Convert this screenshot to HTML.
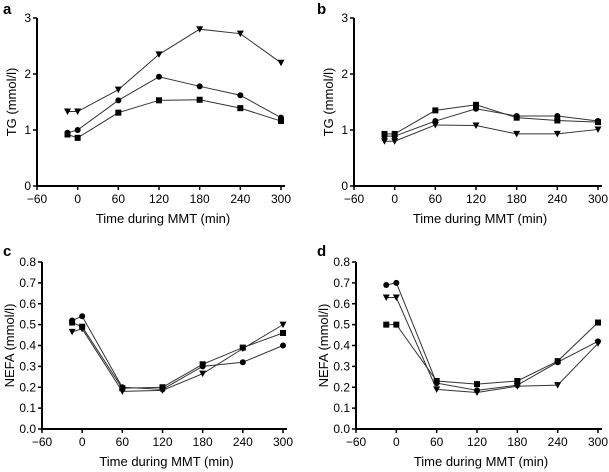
<!DOCTYPE html>
<html><head><meta charset="utf-8"><style>
body{margin:0;background:#fff}
svg{display:block;font-family:"Liberation Sans",sans-serif}
</style></head><body>
<svg id="c" width="609" height="472"></svg>
<script>
const times=[-15,0,60,120,180,240,300];
const xTicks=[-60,0,60,120,180,240,300];
const tgTicks=[0,1,2,3];
const nefaTicks=[0,0.1,0.2,0.3,0.4,0.5,0.6,0.7,0.8];
const aTri=[1.33,1.33,1.72,2.35,2.8,2.72,2.2];
const aCir=[0.95,1.0,1.53,1.95,1.78,1.62,1.22];
const aSq=[0.92,0.86,1.31,1.53,1.54,1.39,1.16];
const bSq=[0.93,0.93,1.35,1.45,1.22,1.17,1.14];
const bCir=[0.89,0.89,1.16,1.38,1.25,1.25,1.16];
const bTri=[0.8,0.8,1.09,1.08,0.93,0.93,1.01];
const cCir=[0.52,0.54,0.2,0.19,0.30,0.32,0.40];
const cSq=[0.51,0.49,0.195,0.2,0.31,0.39,0.46];
const cTri=[0.465,0.48,0.18,0.185,0.265,0.385,0.50];
const dCir=[0.69,0.70,0.22,0.185,0.21,0.32,0.42];
const dTri=[0.63,0.63,0.19,0.175,0.205,0.21,0.41];
const dSq=[0.50,0.50,0.23,0.215,0.23,0.325,0.51];
const NS="http://www.w3.org/2000/svg";
const svg=document.getElementById('c');
function mk(t,a,p){const e=document.createElementNS(NS,t);for(const k in a)e.setAttribute(k,a[k]);(p||svg).appendChild(e);return e;}
const panels=[
 {id:'a',x0:37,x1:281,y0:186,y1:18,ymax:3,ticks:tgTicks,dec:0,yl:'TG (mmol/l)',series:[['tri',aTri],['cir',aCir],['sq',aSq]],lx:3,ly:14,ylx:12},
 {id:'b',x0:354,x1:598,y0:186,y1:18,ymax:3,ticks:tgTicks,dec:0,yl:'TG (mmol/l)',series:[['sq',bSq],['cir',bCir],['tri',bTri]],lx:317,ly:14,ylx:329},
 {id:'c',x0:42,x1:283,y0:429,y1:262,ymax:0.8,ticks:nefaTicks,dec:1,yl:'NEFA (mmol/l)',series:[['cir',cCir],['sq',cSq],['tri',cTri]],lx:3,ly:256,ylx:10},
 {id:'d',x0:356,x1:598,y0:429,y1:262,ymax:0.8,ticks:nefaTicks,dec:1,yl:'NEFA (mmol/l)',series:[['cir',dCir],['tri',dTri],['sq',dSq]],lx:317,ly:256,ylx:324}
];
panels.forEach(p=>{
 const g=mk('g',{});
 
 
 const xs=v=>p.x0+(v+60)/360*(p.x1-p.x0);
 const ys=v=>p.y0-v/p.ymax*(p.y0-p.y1);
 const ax=mk('path',{d:`M${p.x0},${p.y1} V${p.y0} H${p.x1+4}`,stroke:'#000','stroke-width':2,fill:'none'},g);
 
 
 xTicks.forEach(t=>{const x=xs(t);mk('line',{x1:x,x2:x,y1:p.y0,y2:p.y0+4,stroke:'#000','stroke-width':1.5},g);
  const tx=mk('text',{x:x,y:p.y0+17,'text-anchor':'middle','font-size':12},g);tx.textContent=t<0?'\u2212'+(-t):t;
  });
 p.ticks.forEach(t=>{const y=ys(t);mk('line',{x1:p.x0-4,x2:p.x0,y1:y,y2:y,stroke:'#000','stroke-width':1.5},g);
  const tx=mk('text',{x:p.x0-6,y:y+4,'text-anchor':'end','font-size':12},g);tx.textContent=t.toFixed(p.dec);
  });
 const xt=mk('text',{x:(p.x0+p.x1)/2+4,y:p.y0+37,'text-anchor':'middle','font-size':13},g);xt.textContent='Time during MMT (min)';
 
 const cy=(p.y0+p.y1)/2;
 const yt=mk('text',{x:p.ylx,y:cy,'text-anchor':'middle','font-size':13,transform:`rotate(-90 ${p.ylx} ${cy})`,dy:4},g);yt.textContent=p.yl;
 
 const lt=mk('text',{x:p.lx,y:p.ly,'font-size':15,'font-weight':'bold'},g);lt.textContent=p.id;
 
 p.series.forEach(([m,vals])=>{
  const pts=vals.map((v,i)=>[xs(times[i]),ys(v)]);
  const ln=mk('polyline',{points:pts.map(q=>q.join(',')).join(' '),fill:'none',stroke:'#333','stroke-width':1},g);
  
  pts.forEach(([x,y])=>{let e;
   if(m==='cir')e=mk('circle',{cx:x,cy:y,r:3,fill:'#000'},g);
   else if(m==='sq')e=mk('rect',{x:x-3,y:y-3,width:6,height:6,fill:'#000'},g);
   else e=mk('path',{d:`M${x-3.5},${y-3} H${x+3.5} L${x},${y+3.5} Z`,fill:'#000'},g);
   });
 });
});
</script>
</body></html>
